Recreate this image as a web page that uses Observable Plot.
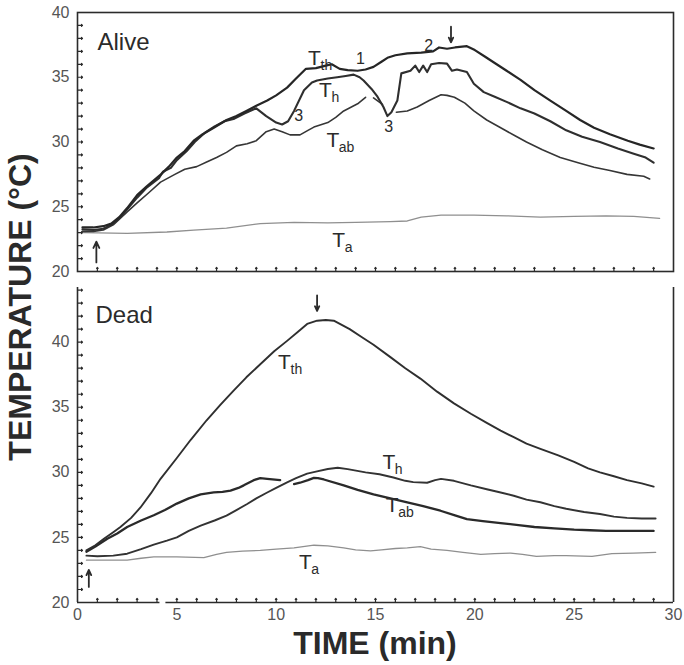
<!DOCTYPE html>
<html>
<head>
<meta charset="utf-8">
<script src="https://cdn.jsdelivr.net/npm/d3@7"></script>
<script src="https://cdn.jsdelivr.net/npm/@observablehq/plot@0.6"></script>
<style>
  html, body { margin: 0; padding: 0; background: #fff; }
  #wrap { position: relative; width: 684px; height: 665px; overflow: hidden; font-family: "Liberation Sans", Arial, sans-serif; }
  #wrap svg { position: absolute; left: 0; }
  .title { position: absolute; font-weight: bold; font-size: 32px; color: #2a2a2a; white-space: nowrap; line-height: 1; }
</style>
</head>
<body>
<div id="wrap">
  <div class="title" id="ytitle" style="left:20px; top:307px; transform: translate(-50%,-50%) rotate(-90deg);">TEMPERATURE (°C)</div>
  <div class="title" id="xtitle" style="left:375px; top:643px; transform: translate(-50%,-50%);">TIME (min)</div>
</div>
<script>
// ---------- DATA (time in min, temperature in °C) ----------
const aliveTth = [[0.25,23.4],[0.8,23.4],[1.3,23.5],[1.7,23.7],[2.1,24.2],[2.5,24.9],[3.0,25.9],[3.5,26.6],[4.2,27.5],[4.6,28.1],[5.0,28.8],[5.4,29.3],[5.85,30.1],[6.3,30.6],[6.86,31.1],[7.5,31.7],[8.0,32.0],[8.5,32.4],[9.0,32.8],[9.55,33.2],[10.0,33.6],[10.55,34.2],[11.0,34.9],[11.5,35.65],[12.0,35.7],[12.5,35.9],[12.8,36.0],[13.2,35.65],[13.6,35.55],[14.1,35.5],[14.5,35.6],[14.9,35.8],[15.3,36.2],[15.6,36.5],[16.0,36.7],[16.6,36.85],[17.3,36.9],[17.9,37.0],[18.2,37.3],[18.6,37.2],[19.0,37.3],[19.6,37.4],[20.0,37.1],[20.5,36.6],[21.0,36.1],[21.6,35.5],[22.3,34.8],[23.0,34.0],[23.8,33.2],[24.6,32.4],[25.3,31.7],[26.0,31.1],[26.8,30.6],[27.7,30.1],[28.3,29.8],[29.0,29.5]];
const aliveTh = [[0.25,23.25],[0.8,23.2],[1.3,23.3],[1.7,23.6],[2.1,24.1],[2.5,24.8],[3.0,25.7],[3.5,26.5],[4.1,27.2],[4.3,27.7],[4.7,28.0],[5.0,28.6],[5.5,29.3],[5.9,30.0],[6.4,30.7],[6.9,31.2],[7.4,31.6],[7.9,31.8],[8.4,32.2],[9.0,32.6],[9.5,32.0],[10.0,31.5],[10.3,31.35],[10.6,31.6],[10.9,32.4],[11.4,34.0],[11.8,34.6],[12.06,34.75],[12.6,34.9],[13.07,35.0],[13.5,35.1],[13.9,35.2],[14.2,35.0],[14.4,34.75],[14.8,34.1],[15.1,33.5],[15.4,32.7],[15.6,32.0],[15.8,32.3],[16.1,33.2],[16.3,35.3],[16.76,35.5],[17.0,35.9],[17.2,35.4],[17.4,35.9],[17.6,35.4],[17.8,36.0],[18.2,36.1],[18.6,36.05],[18.85,35.5],[19.1,35.6],[19.6,35.4],[19.95,34.5],[20.45,33.85],[21.0,33.5],[21.6,33.1],[22.3,32.6],[23.0,32.2],[23.8,31.6],[24.6,30.9],[25.4,30.4],[26.3,30.0],[27.2,29.5],[28.0,29.1],[28.6,28.8],[29.0,28.4]];
const aliveTab = [[0.25,23.1],[0.8,23.1],[1.3,23.2],[1.8,23.6],[2.5,24.6],[3.0,25.3],[3.6,26.1],[4.18,26.9],[4.9,27.5],[5.4,27.9],[6.0,28.1],[6.5,28.45],[7.0,28.8],[7.5,29.2],[8.0,29.7],[8.54,29.86],[9.0,30.1],[9.5,30.8],[9.9,31.0],[10.3,30.8],[10.7,30.55],[11.2,30.55],[11.6,30.9],[11.9,31.15],[12.6,31.5],[13.0,31.9],[13.4,32.4],[14.1,32.95],[14.5,33.45],[14.7,NaN],[14.9,33.4],[15.35,32.9],[15.7,NaN],[16.05,32.3],[16.6,32.4],[17.1,32.7],[17.7,33.2],[18.3,33.65],[18.6,33.6],[18.97,33.46],[19.5,33.0],[19.95,32.4],[20.6,31.7],[21.3,31.1],[22.0,30.5],[22.6,30.0],[23.4,29.4],[24.3,28.8],[25.2,28.4],[26.0,28.05],[26.8,27.8],[27.66,27.5],[28.5,27.35],[28.8,27.15]];
const aliveTa = [[0.3,23.0],[2.5,22.95],[4.5,23.05],[5.85,23.2],[7.5,23.35],[9.2,23.7],[10.9,23.8],[12.6,23.75],[14.0,23.8],[15.75,23.85],[16.6,23.9],[17.3,24.2],[18.3,24.35],[19.95,24.35],[21.6,24.3],[23.3,24.2],[25.0,24.25],[26.6,24.3],[28.0,24.25],[29.3,24.1]];

const deadTth = [[0.45,24.0],[0.9,24.4],[1.33,24.9],[1.8,25.4],[2.16,25.8],[2.7,26.5],[3.17,27.3],[3.7,28.4],[4.18,29.5],[5.0,31.1],[5.7,32.5],[6.5,34.0],[7.2,35.2],[7.87,36.3],[8.5,37.3],[9.2,38.3],[9.9,39.3],[10.55,40.1],[11.1,40.8],[11.56,41.4],[12.06,41.65],[12.5,41.7],[12.9,41.65],[13.7,41.0],[14.3,40.4],[14.9,39.8],[15.75,38.85],[16.5,38.0],[17.26,37.2],[18.1,36.2],[18.95,35.3],[19.8,34.5],[20.6,33.8],[21.3,33.2],[21.96,32.7],[22.6,32.2],[23.3,31.8],[24.2,31.3],[25.0,30.8],[25.7,30.3],[26.3,30.0],[27.0,29.7],[27.66,29.4],[28.4,29.15],[29.0,28.9]];
const deadTh = [[0.45,23.6],[1.0,23.55],[1.8,23.6],[2.5,23.75],[3.2,24.1],[3.84,24.45],[4.5,24.75],[5.0,25.0],[5.6,25.5],[6.2,25.9],[6.9,26.3],[7.5,26.67],[8.0,27.1],[8.54,27.57],[9.0,28.0],[9.55,28.45],[10.0,28.8],[10.55,29.23],[11.0,29.55],[11.56,29.9],[12.0,30.05],[12.6,30.26],[13.1,30.35],[13.6,30.25],[14.5,30.0],[15.2,29.85],[15.9,29.6],[16.5,29.35],[16.9,29.25],[17.6,29.2],[18.0,29.4],[18.3,29.5],[18.95,29.35],[19.8,29.0],[20.6,28.7],[21.3,28.45],[21.96,28.2],[22.6,27.9],[23.3,27.7],[24.0,27.4],[24.6,27.2],[25.5,26.95],[26.3,26.8],[27.0,26.6],[27.66,26.5],[28.4,26.45],[29.1,26.45]];
const deadTab = [[0.45,23.9],[0.9,24.3],[1.5,24.9],[2.0,25.3],[2.5,25.8],[3.2,26.3],[3.84,26.7],[4.4,27.1],[5.0,27.6],[5.6,28.0],[6.2,28.3],[6.86,28.46],[7.3,28.5],[7.7,28.6],[8.1,28.8],[8.37,29.0],[8.87,29.4],[9.2,29.55],[9.55,29.5],[10.2,29.4],[10.5,NaN],[10.9,29.1],[11.2,29.2],[11.6,29.4],[11.9,29.57],[12.1,29.55],[12.4,29.45],[13.4,29.0],[14.1,28.65],[14.9,28.3],[15.75,28.0],[16.6,27.7],[17.4,27.4],[18.27,27.05],[19.0,26.7],[19.6,26.4],[20.4,26.25],[21.3,26.1],[22.2,25.95],[23.0,25.8],[24.0,25.7],[25.0,25.6],[25.8,25.55],[26.6,25.5],[27.5,25.5],[29.0,25.5]];
const deadTa = [[0.45,23.25],[1.5,23.25],[2.5,23.25],[3.2,23.4],[3.84,23.5],[5.0,23.5],[6.36,23.45],[7.0,23.7],[7.5,23.85],[8.3,23.95],[9.2,24.0],[10.0,24.1],[10.9,24.2],[11.9,24.4],[12.6,24.35],[13.4,24.2],[14.0,24.05],[14.75,23.97],[15.3,24.05],[16.0,24.15],[16.6,24.2],[17.26,24.3],[17.8,24.1],[18.6,24.0],[19.4,23.85],[20.3,23.7],[21.0,23.75],[21.8,23.8],[22.4,23.7],[23.1,23.55],[24.0,23.6],[24.6,23.6],[25.9,23.55],[26.9,23.75],[28.0,23.8],[29.1,23.85]];

// tick values
const xMajorTicks = [0, 5, 10, 15, 20, 25, 30];
const xMinorTicks = [1,2,3,4,5,6,7,8,9,10,11,12,13,14,15,16,17,18,19,20,21,22,23,24,25,26,27,28,29];
const yMajorTicks = [20, 25, 30, 35, 40];
const yMinorAlive = [21,22,23,24,25,26,27,28,29,30,31,32,33,34,35,36,37,38,39];
const yMinorDead = [21,22,23,24,25,26,27,28,29,30,31,32,33,34,35,36,37,38,39,40,41,42,43,44];
const deadAxisBreak = [4.15, 4.45];

// annotation labels: [time, temp, main, subscript]
const aliveLabels = [[11.93,36.45,"T","th"],[12.48,34.0,"T","h"],[12.85,30.1,"T","ab"],[13.15,22.4,"T","a"]];
const aliveMarks = [[14.24,36.4,"1"],[17.68,37.45,"2"],[11.14,32.05,"3"],[15.67,31.14,"3"]];
const aliveArrows = [[18.8,38.9,37.7],[0.95,20.7,22.3]];
const deadLabels = [[10.42,38.46,"T","th"],[15.67,30.77,"T","h"],[15.84,27.44,"T","ab"],[11.47,23.08,"T","a"]];
const deadArrows = [[12.06,43.6,42.4],[0.57,21.2,22.5]];

// ---------- helpers ----------
const W = 684, ML = 77, MR = 11;
const rows = p => p.map(([t, v]) => ({t, v}));
const lbl = p => p.map(([t, v, m, s]) => ({t, v, m, s}));
const arr = p => p.map(([t, a, b]) => ({t, a, b}));
const font = "'Liberation Sans', Arial, sans-serif";
const ink = "#2b2b2b";

function labelMarks(labels) {
  const L = lbl(labels);
  return [
    Plot.text(L, {x: "t", y: "v", text: "m", fontSize: 21, fill: ink, textAnchor: "middle", lineAnchor: "middle"}),
    Plot.text(L, {x: "t", y: "v", text: "s", fontSize: 14, fill: ink, textAnchor: "start", lineAnchor: "middle", dx: 6, dy: 7})
  ];
}
function arrowMarks(a) {
  return Plot.arrow(arr(a), {x: "t", y1: "a", y2: "b", stroke: ink, strokeWidth: 1.8, headLength: 8, headAngle: 50});
}
// inward ticks: short vectors pointing into the panel from the left / bottom edges
function yTicksIn(values, size) {
  return Plot.vector(values, {x: () => 0, y: d => d, length: size, rotate: 90, anchor: "start", stroke: ink, strokeWidth: 1.2});
}
function xTicksIn(values, size, y0) {
  return Plot.vector(values, {x: d => d, y: () => y0, length: size, rotate: 0, anchor: "start", stroke: ink, strokeWidth: 1.2});
}

// ---------- ALIVE ----------
const alive = Plot.plot({
  width: W, height: 283,
  marginTop: 12, marginBottom: 12, marginLeft: ML, marginRight: MR,
  style: {fontFamily: font, background: "transparent", overflow: "visible"},
  x: {domain: [0, 30], axis: null},
  y: {domain: [20, 40]},
  marks: [
    Plot.frame({stroke: ink, strokeWidth: 1.6}),
    yTicksIn(yMinorAlive, 5),
    Plot.axisY(yMajorTicks, {tickSize: 0, tickPadding: 8, fontSize: 16, fill: "#555", label: null}),
    xTicksIn(xMinorTicks, 4, 20),
    Plot.line(rows(aliveTa), {x: "t", y: "v", stroke: "#8f8f8f", strokeWidth: 1.3}),
    Plot.line(rows(aliveTab), {x: "t", y: "v", stroke: "#363636", strokeWidth: 1.6}),
    Plot.line(rows(aliveTh), {x: "t", y: "v", stroke: "#2f2f2f", strokeWidth: 2.1}),
    Plot.line(rows(aliveTth), {x: "t", y: "v", stroke: "#262626", strokeWidth: 2.2}),
    ...labelMarks(aliveLabels),
    Plot.text(aliveMarks.map(([t, v, s]) => ({t, v, s})), {x: "t", y: "v", text: "s", fontSize: 16, fill: ink}),
    arrowMarks(aliveArrows),
    Plot.text(["Alive"], {frameAnchor: "top-left", dx: 20, dy: 20, fontSize: 24, fill: ink, lineAnchor: "top"})
  ]
});

// ---------- DEAD ----------
const dead = Plot.plot({
  width: W, height: 385,
  marginTop: 7, marginBottom: 63, marginLeft: ML, marginRight: MR,
  style: {fontFamily: font, background: "transparent", overflow: "visible"},
  x: {domain: [0, 30]},
  y: {domain: [20, 44.2]},
  marks: [
    Plot.ruleX([0, 30], {stroke: ink, strokeWidth: 1.6}),
    Plot.ruleY([20], {x1: 0, x2: deadAxisBreak[0], stroke: ink, strokeWidth: 1.6}),
    Plot.ruleY([20], {x1: deadAxisBreak[1], x2: 30, stroke: ink, strokeWidth: 1.6}),
    yTicksIn(yMinorDead, 5),
    Plot.axisY(yMajorTicks, {tickSize: 0, tickPadding: 8, fontSize: 16, fill: "#555", label: null}),
    xTicksIn(xMinorTicks, 4, 20),
    Plot.axisX(xMajorTicks, {tickSize: 0, tickPadding: 6, fontSize: 16, fill: "#555", label: null}),
    Plot.line(rows(deadTa), {x: "t", y: "v", stroke: "#8f8f8f", strokeWidth: 1.3}),
    Plot.line(rows(deadTab), {x: "t", y: "v", stroke: "#2a2a2a", strokeWidth: 2.3}),
    Plot.line(rows(deadTh), {x: "t", y: "v", stroke: "#333", strokeWidth: 1.9}),
    Plot.line(rows(deadTth), {x: "t", y: "v", stroke: "#2f2f2f", strokeWidth: 1.9}),
    ...labelMarks(deadLabels),
    arrowMarks(deadArrows),
    Plot.text(["Dead"], {frameAnchor: "top-left", dx: 18, dy: 18, fontSize: 24, fill: ink, lineAnchor: "top"})
  ]
});

const wrap = document.getElementById("wrap");
alive.style.top = "0px";
dead.style.top = "280px";
wrap.appendChild(alive);
wrap.appendChild(dead);
</script>
</body>
</html>
